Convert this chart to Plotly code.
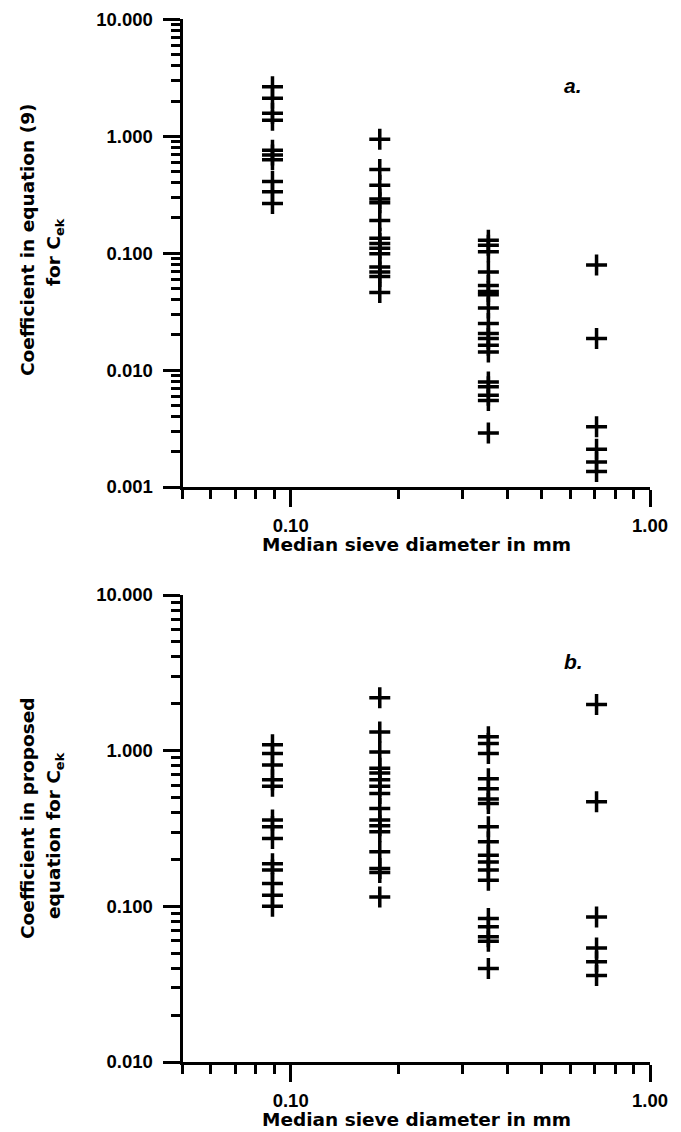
import plotly.graph_objects as go

# ---------------- data ----------------
sieve_diam = [0.089, 0.177, 0.355, 0.71]   # median sieve diameter, mm

# panel a: coefficient in equation (9)
a_d1 = [2.65, 2.11, 1.57, 1.37, 0.76, 0.69, 0.63, 0.41, 0.335, 0.266]
a_d2 = [0.94, 0.52, 0.38, 0.29, 0.27, 0.19, 0.134, 0.121, 0.110, 0.099,
        0.076, 0.069, 0.063, 0.046]
a_d3 = [0.129, 0.117, 0.103, 0.069, 0.053, 0.047, 0.044, 0.034, 0.025,
        0.0205, 0.0186, 0.0163, 0.0143, 0.0079, 0.0072, 0.0061, 0.0055, 0.0029]
a_d4 = [0.079, 0.0186, 0.00327, 0.0021, 0.00164, 0.00136]

# panel b: coefficient in proposed equation
b_d1 = [1.09, 0.96, 0.81, 0.65, 0.59, 0.358, 0.324, 0.273, 0.188, 0.171,
        0.140, 0.118, 0.100]
b_d2 = [2.19, 1.32, 0.98, 0.77, 0.72, 0.65, 0.59, 0.53, 0.425, 0.358,
        0.329, 0.301, 0.224, 0.175, 0.165, 0.115]
b_d3 = [1.23, 1.11, 0.96, 0.66, 0.57, 0.49, 0.458, 0.324, 0.26, 0.213,
        0.193, 0.171, 0.147, 0.0835, 0.0738, 0.0637, 0.0597, 0.0398]
b_d4 = [1.98, 0.47, 0.0855, 0.054, 0.044, 0.036]

x_tick_vals = [0.1, 1.0]
x_tick_text = ["0.10", "1.00"]
ya_tick_vals = [0.001, 0.01, 0.1, 1.0, 10.0]
ya_tick_text = ["0.001", "0.010", "0.100", "1.000", "10.000"]
yb_tick_vals = [0.01, 0.1, 1.0, 10.0]
yb_tick_text = ["0.010", "0.100", "1.000", "10.000"]

x_title = "Median sieve diameter in mm"
ya_title = ["Coefficient in equation (9)", "for C<sub>ek</sub>"]
yb_title = ["Coefficient in proposed", "equation for C<sub>ek</sub>"]

# ---------------- figure ----------------
W, H = 681, 1132
TICKFONT = dict(family="Liberation Sans", size=18.5, color="black", weight="bold")
TITLEFONT = dict(family="DejaVu Sans", size=18.5, color="black", weight="bold")


def minor_vals(e0, e1):
    return [m * 10 ** e for e in range(e0, e1) for m in range(2, 10)]


fig = go.Figure()
marker = dict(symbol="cross-thin", size=15, line=dict(color="black", width=3.5),
              color="black")

for xv, ys in zip(sieve_diam, [a_d1, a_d2, a_d3, a_d4]):
    fig.add_trace(go.Scatter(x=[xv] * len(ys), y=ys, mode="markers", marker=marker,
                             xaxis="x", yaxis="y", showlegend=False))
for xv, ys in zip(sieve_diam, [b_d1, b_d2, b_d3, b_d4]):
    fig.add_trace(go.Scatter(x=[xv] * len(ys), y=ys, mode="markers", marker=marker,
                             xaxis="x2", yaxis="y2", showlegend=False))

xdom = [182.5 / W, 650 / W]
ydom_a = [(H - 487) / H, (H - 19.3) / H]
ydom_b = [(H - 1062) / H, (H - 595) / H]

common_x = dict(type="log", range=[-1.30103, 0], domain=xdom, showline=True,
                linecolor="black", linewidth=3, ticks="outside", ticklen=17,
                tickwidth=2.5, tickcolor="black", tickmode="array",
                tickvals=x_tick_vals, ticktext=x_tick_text, tickfont=TICKFONT,
                showgrid=False, zeroline=False, ticklabelstandoff=3,
                automargin=False,
                minor=dict(tickmode="array", tickvals=minor_vals(-2, 0),
                           ticks="outside", ticklen=9, tickwidth=2.5,
                           tickcolor="black", showgrid=False))

common_y = dict(type="log", showline=True, linecolor="black", linewidth=3,
                ticks="outside", ticklen=17, tickwidth=2.5, tickcolor="black",
                tickmode="array", tickfont=TICKFONT, showgrid=False,
                zeroline=False, ticklabelstandoff=6, automargin=False)

fig.update_layout(
    template="none",
    width=W, height=H,
    margin=dict(l=0, r=0, t=0, b=0, pad=0, autoexpand=False),
    paper_bgcolor="white", plot_bgcolor="white",
    showlegend=False,
    xaxis=dict(common_x, anchor="y"),
    xaxis2=dict(common_x, anchor="y2"),
    yaxis=dict(common_y, domain=ydom_a, range=[-3, 1], anchor="x",
               tickvals=ya_tick_vals, ticktext=ya_tick_text,
               minor=dict(tickmode="array", tickvals=minor_vals(-3, 1),
                          ticks="outside", ticklen=9, tickwidth=2.5,
                          tickcolor="black", showgrid=False)),
    yaxis2=dict(common_y, domain=ydom_b, range=[-2, 1], anchor="x2",
                tickvals=yb_tick_vals, ticktext=yb_tick_text,
                minor=dict(tickmode="array", tickvals=minor_vals(-2, 1),
                           ticks="outside", ticklen=9, tickwidth=2.5,
                           tickcolor="black", showgrid=False)),
)

ann = []
# panel letters
ann.append(dict(text="<b><i>a.</i></b>", x=573 / W, y=(H - 86) / H, xref="paper",
                yref="paper", showarrow=False, xanchor="center", yanchor="middle",
                font=dict(family="Liberation Sans", size=21, color="black")))
ann.append(dict(text="<b><i>b.</i></b>", x=573 / W, y=(H - 662) / H, xref="paper",
                yref="paper", showarrow=False, xanchor="center", yanchor="middle",
                font=dict(family="Liberation Sans", size=21, color="black")))
# x titles (one per panel)
for py in (544, 1119):
    ann.append(dict(text=x_title, x=416 / W, y=(H - py) / H, xref="paper",
                    yref="paper", showarrow=False, xanchor="center",
                    yanchor="middle", font=TITLEFONT))
# y titles (two lines each)
for txt, px, py in [(ya_title[0], 28, 240), (ya_title[1], 55, 252),
                    (yb_title[0], 27, 818), (yb_title[1], 55, 836)]:
    ann.append(dict(text=txt, x=px / W, y=(H - py) / H, xref="paper", yref="paper",
                    showarrow=False, textangle=-90, xanchor="center",
                    yanchor="middle", font=TITLEFONT))
fig.update_layout(annotations=ann)

fig.write_html(
    "out.html",
    config={"displayModeBar": False},
    post_script="document.body.style.margin='0';document.body.style.overflow='hidden';",
)
